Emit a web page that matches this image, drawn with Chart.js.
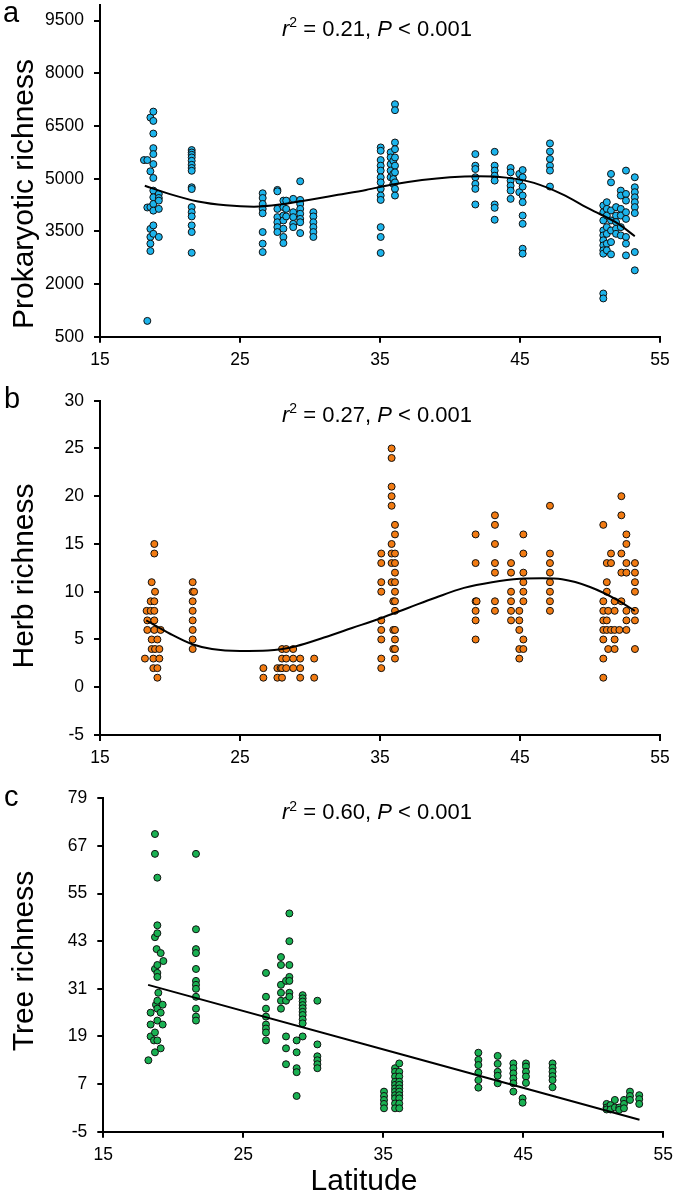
<!DOCTYPE html>
<html lang="en">
<head>
<meta charset="UTF-8">
<title>Richness along latitude</title>
<script src="https://cdn.jsdelivr.net/npm/chart.js"></script>
<style>
  body { margin: 0; background: #fff; }
  #wrap { position: relative; width: 675px; height: 1195px; }
  canvas { position: absolute; left: 0; }
</style>
</head>
<body>
<div id="wrap">
  <canvas id="chartA" width="675" height="385" style="top:0;width:675px;height:385px"></canvas>
  <canvas id="chartB" width="675" height="390" style="top:385px;width:675px;height:390px"></canvas>
  <canvas id="chartC" width="675" height="420" style="top:775px;width:675px;height:420px"></canvas>
</div>
<script>
// tick labels
const latTicks = [15, 25, 35, 45, 55];
const prokTicks = [500, 2000, 3500, 5000, 6500, 8000, 9500];
const herbTicks = [-5, 0, 5, 10, 15, 20, 25, 30];
const treeTicks = [-5, 7, 19, 31, 43, 55, 67, 79];
const stats = ['0.21', '0.27', '0.60'];

// sampled sites: [latitude, [richness values]]
const prokSites = [
  [18.14, [5530]],
  [18.38, [5530, 4180, 950]],
  [18.6, [6740, 5210, 4190, 3570, 3340, 3150, 2940]],
  [18.81, [6910, 6645, 6285, 5870, 5700, 5415, 5020, 4660, 4470, 4280, 4090, 3670, 3430]],
  [19.2, [4565, 4450, 4375, 4140, 3340]],
  [21.55, [5815, 5745, 5680, 5605, 5510, 5395, 5305, 5225, 4755, 4705, 4190, 4045, 3925, 3670, 3480, 2890]],
  [26.62, [4585, 4450, 4280, 4140, 4015, 3480, 3150, 2910]],
  [27.67, [4680, 4640, 4140, 3905, 3760, 3620, 3480]],
  [28.1, [4375, 4190, 3950, 3810, 3575, 3340, 3165]],
  [28.3, [4375, 4140, 3925]],
  [28.8, [4425, 4045, 3905, 3715, 3620]],
  [29.3, [4925, 4395, 4280, 4140, 4000, 3855, 3760, 3450]],
  [30.24, [4045, 3925, 3760, 3620, 3480, 3340]],
  [35.05, [5890, 5795, 5530, 5370, 5230, 5040, 4895, 4710, 4520, 4395, 3620, 3340, 2885]],
  [35.76, [5750, 5605, 5415, 5230, 5040]],
  [35.95, [5510, 5135, 4990, 4850]],
  [36.07, [7120, 6950, 6030, 5840, 5605, 5370, 5180, 4895, 4710, 4520]],
  [41.81, [5700, 5370, 5275, 5040, 4850, 4710, 4265]],
  [43.19, [5765, 5370, 5230, 5085, 4945, 4265, 4170, 3830]],
  [44.33, [5305, 5180, 4945, 4800, 4660, 4425]],
  [44.95, [5135, 4945, 4615]],
  [45.19, [5245, 5040, 4775, 4520, 4330, 3950, 3715, 3005, 2865]],
  [47.14, [6005, 5775, 5560, 5370, 5230, 4775]],
  [50.95, [4235, 4045, 3810, 3525, 3385, 3245, 3100, 2960, 2865, 1730, 1590]],
  [51.2, [4330, 4140, 3950, 3620, 3430, 3150, 2960]],
  [51.5, [5135, 4895, 4095, 3810, 3525, 3195, 2845]],
  [51.86, [4190, 3950, 3765, 3575, 3430]],
  [52.2, [4660, 4520, 4140, 3950, 3620, 3385]],
  [52.57, [5230, 4565, 4375, 4045, 3855, 3340, 3150, 2815]],
  [53.2, [5040, 4755, 4615, 4470, 4330, 4190, 4020, 2910, 2390]]
];

const herbSites = [
  [18.21, [3]],
  [18.33, [8]],
  [18.38, [7, 6]],
  [18.62, [9, 8]],
  [18.69, [11, 5, 4]],
  [18.81, [3, 2]],
  [18.88, [15, 14, 9, 8, 7, 6]],
  [18.93, [10, 4]],
  [19.1, [5, 2, 1]],
  [19.24, [4, 3]],
  [19.33, [6]],
  [21.62, [11, 10, 9, 8, 7, 6, 5, 4]],
  [21.72, [10]],
  [26.67, [2, 1]],
  [27.67, [2, 1]],
  [27.9, [2]],
  [28.0, [4, 3, 2, 1]],
  [28.3, [4, 3, 2]],
  [28.8, [4, 3, 2]],
  [29.3, [3, 2, 1]],
  [30.3, [3, 1]],
  [35.09, [14, 13, 11, 10, 7, 6, 5, 3, 2]],
  [35.83, [25, 24, 21, 20, 19, 15, 14, 13, 11]],
  [35.95, [9, 6, 4]],
  [36.07, [17, 16, 14, 13, 12, 11, 10, 9, 8, 6, 5, 4, 3]],
  [41.83, [16, 13, 9, 8, 7, 5]],
  [41.9, [9]],
  [43.21, [18, 17, 15, 13, 12, 9, 8]],
  [44.36, [13, 12, 10, 9, 8, 7]],
  [44.95, [8, 7, 6, 4, 3]],
  [45.24, [16, 14, 12, 11, 10, 9, 5, 4]],
  [47.14, [19, 14, 13, 12, 11, 10, 9, 8]],
  [50.95, [17, 9, 8, 7, 6, 5, 3, 1]],
  [51.2, [13, 11, 10, 7, 6]],
  [51.3, [8, 4]],
  [51.5, [14, 13, 6]],
  [51.76, [9, 8, 6, 5, 4]],
  [52.1, [6]],
  [52.24, [20, 18, 14, 12, 9]],
  [52.6, [16, 15, 13, 12, 8, 7, 6]],
  [53.21, [13, 12, 11, 10, 8, 7, 4]]
];

const treeSites = [
  [18.22, [13]],
  [18.38, [25, 22, 19]],
  [18.62, [18]],
  [18.69, [70, 65, 44, 36, 20, 15]],
  [18.76, [27]],
  [18.81, [41]],
  [18.86, [59, 47, 45, 37, 35, 34, 28, 26, 23, 18]],
  [18.93, [30]],
  [19.1, [40, 25, 16]],
  [19.24, [27, 22]],
  [19.29, [38]],
  [21.62, [65, 46, 41, 40, 36, 33, 32, 31, 29, 26, 24, 23]],
  [26.62, [35, 29, 26, 24, 22, 21, 20, 18]],
  [27.69, [39, 37, 32, 30, 28, 26]],
  [28.05, [33, 28, 19, 16, 12]],
  [28.29, [50, 43, 37, 34, 33, 30, 29]],
  [28.81, [18, 15, 11, 10, 4]],
  [29.24, [29.4, 28.6, 27.8, 26.9, 26.1, 25.2, 24.4, 23.3, 22.3, 19]],
  [30.29, [28, 17, 14, 13, 12, 11]],
  [35.05, [5.1, 4, 3, 2, 0.9]],
  [35.84, [11, 10.1, 8.9, 7.6, 6.8, 5.9, 5.1, 4.2, 3.4, 2.1, 0.9]],
  [36.14, [12.2, 10.1, 8.9, 7.6, 6.8, 5.9, 5.1, 4.2, 3.4, 2.1, 0.9]],
  [41.79, [14.9, 13.1, 11.8, 9.9, 8, 6.1]],
  [43.17, [14.1, 12.1, 10.1, 9.1, 7.2]],
  [44.29, [12.2, 11, 9.7, 8.4, 7.2, 5.1]],
  [44.95, [3.4, 2.3]],
  [45.19, [12.2, 11.4, 10.1, 8.9, 7.3]],
  [47.09, [12.2, 11.1, 10.1, 9, 8, 6.2]],
  [50.95, [2, 1.1, 0.6]],
  [51.23, [1.7, 0.6]],
  [51.54, [3, 1.1]],
  [51.85, [1.1, 0.5]],
  [52.19, [3, 2, 0.9]],
  [52.62, [5.1, 4, 3]],
  [53.28, [4.2, 3.2, 2]]
];

// fitted trend lines
const prokFitLat = [18.2, 20, 22, 24, 26, 28, 30, 32, 34, 36, 38, 40, 42, 44, 46, 48, 50, 52, 53.2];
const prokFitVal = [4800, 4560, 4350, 4240, 4200, 4270, 4400, 4540, 4680, 4840, 4960, 5040, 5070, 5030, 4880, 4560, 4130, 3720, 3360];
const herbFitLat = [18.3, 20, 21.6, 23, 25, 27, 29, 31, 33, 35, 37, 39, 41, 43, 45, 46.6, 48, 50, 52, 53.2];
const herbFitVal = [7.0, 5.6, 4.5, 4.0, 3.8, 3.85, 4.3, 5.2, 6.2, 7.2, 8.3, 9.4, 10.4, 11.0, 11.35, 11.4, 11.3, 10.5, 9.1, 8.0];
const treeFitLat = [18.2, 53.3];
const treeFitVal = [32.0, -2.0];

const FONT = '"Liberation Sans", Arial, Helvetica, sans-serif';
Chart.defaults.font.family = FONT;
Chart.defaults.color = '#000';

function toPoints(sites) {
  return sites.flatMap(([lat, vals]) => vals.map(v => ({ x: lat, y: v })));
}
function toLine(xs, ys) {
  return xs.map((x, i) => ({ x: x, y: ys[i] }));
}

// panel letter, rotated y title, stats line, optional x title
const panelText = {
  id: 'panelText',
  afterDraw(chart, args, o) {
    const ctx = chart.ctx;
    ctx.save();
    ctx.fillStyle = '#000';
    ctx.textBaseline = 'alphabetic';

    ctx.font = '29px ' + FONT;
    ctx.textAlign = 'left';
    ctx.fillText(o.letter, o.letterX, o.letterY);

    ctx.save();
    ctx.translate(o.titleX, o.titleY);
    ctx.rotate(-Math.PI / 2);
    ctx.textAlign = 'center';
    ctx.font = '30px ' + FONT;
    ctx.fillText(o.yTitle, 0, 0);
    ctx.restore();

    const size = 22;
    const base = size + 'px ' + FONT;
    const ital = 'italic ' + base;
    const runs = [
      { t: 'r', f: ital, dy: 0 },
      { t: '2', f: Math.round(size * 0.62) + 'px ' + FONT, dy: -size * 0.4 },
      { t: ' = ' + o.r2 + ', ', f: base, dy: 0 },
      { t: 'P', f: ital, dy: 0 },
      { t: ' < 0.001', f: base, dy: 0 }
    ];
    let w = 0;
    runs.forEach(r => { ctx.font = r.f; r.w = ctx.measureText(r.t).width; w += r.w; });
    let x = o.statsX - w / 2;
    ctx.textAlign = 'left';
    runs.forEach(r => { ctx.font = r.f; ctx.fillText(r.t, x, o.statsY + r.dy); x += r.w; });

    if (o.xTitle) {
      ctx.font = '30px ' + FONT;
      ctx.textAlign = 'center';
      ctx.fillText(o.xTitle, o.xTitleX, o.xTitleY);
    }
    ctx.restore();
  }
};

function makePanel(id, p) {
  const axisCommon = {
    grid: { display: true, drawOnChartArea: false, drawTicks: true, tickLength: 6, color: '#000', lineWidth: 2 },
    border: { display: true, color: '#000', width: 2 }
  };
  new Chart(document.getElementById(id), {
    type: 'scatter',
    data: {
      datasets: [
        {
          data: p.line,
          showLine: true,
          cubicInterpolationMode: 'monotone',
          borderColor: '#000',
          borderWidth: 2,
          pointRadius: 0
        },
        {
          data: p.points,
          backgroundColor: p.color,
          borderColor: '#111',
          borderWidth: 1,
          pointRadius: 3.5,
          pointHoverRadius: 3.5
        }
      ]
    },
    options: {
      responsive: false,
      animation: false,
      layout: { padding: { top: p.padTop, right: p.padRight, left: 0, bottom: 0 } },
      plugins: {
        legend: { display: false },
        tooltip: { enabled: false },
        panelText: p.text
      },
      scales: {
        x: Object.assign({}, axisCommon, {
          type: 'linear',
          min: 15,
          max: 55,
          afterBuildTicks: s => { s.ticks = latTicks.map(v => ({ value: v })); },
          ticks: { font: { size: 17.5 }, padding: 6.5, maxRotation: 0, autoSkip: false, color: '#000',
                   callback: v => String(v) },
          afterFit: s => { s.height = p.xHeight; s.paddingLeft = 0; s.paddingRight = 0; }
        }),
        y: Object.assign({}, axisCommon, {
          type: 'linear',
          min: p.yMin,
          max: p.yMax,
          afterBuildTicks: s => { s.ticks = p.yTicks.map(v => ({ value: v })); },
          ticks: { font: { size: 17.5 }, padding: 10, autoSkip: false, color: '#000',
                   callback: v => String(v) },
          afterFit: s => { s.width = p.yWidth; s.paddingTop = 0; s.paddingBottom = 0; }
        })
      }
    },
    plugins: [panelText]
  });
}

makePanel('chartA', {
  points: toPoints(prokSites), line: toLine(prokFitLat, prokFitVal),
  color: '#1cb4ec', yMin: 500, yMax: 9960, yTicks: prokTicks,
  padTop: 3, padRight: 15, xHeight: 48.3, yWidth: 100,
  text: { letter: 'a', letterX: 3, letterY: 22, yTitle: 'Prokaryotic richness', titleX: 32.5, titleY: 194,
          r2: stats[0], statsX: 377, statsY: 36 }
});

makePanel('chartB', {
  points: toPoints(herbSites), line: toLine(herbFitLat, herbFitVal),
  color: '#f27b12', yMin: -5, yMax: 30, yTicks: herbTicks,
  padTop: 15.7, padRight: 15, xHeight: 40, yWidth: 100,
  text: { letter: 'b', letterX: 4, letterY: 23, yTitle: 'Herb richness', titleX: 32.5, titleY: 191,
          r2: stats[1], statsX: 377, statsY: 36.7 }
});

makePanel('chartC', {
  points: toPoints(treeSites), line: toLine(treeFitLat, treeFitVal),
  color: '#19b152', yMin: -5, yMax: 79, yTicks: treeTicks,
  padTop: 23.3, padRight: 11.7, xHeight: 63.3, yWidth: 103.3,
  text: { letter: 'c', letterX: 4, letterY: 30.5, yTitle: 'Tree richness', titleX: 32.5, titleY: 186,
          r2: stats[2], statsX: 377, statsY: 44.3,
          xTitle: 'Latitude', xTitleX: 364, xTitleY: 415 }
});
</script>
</body>
</html>
